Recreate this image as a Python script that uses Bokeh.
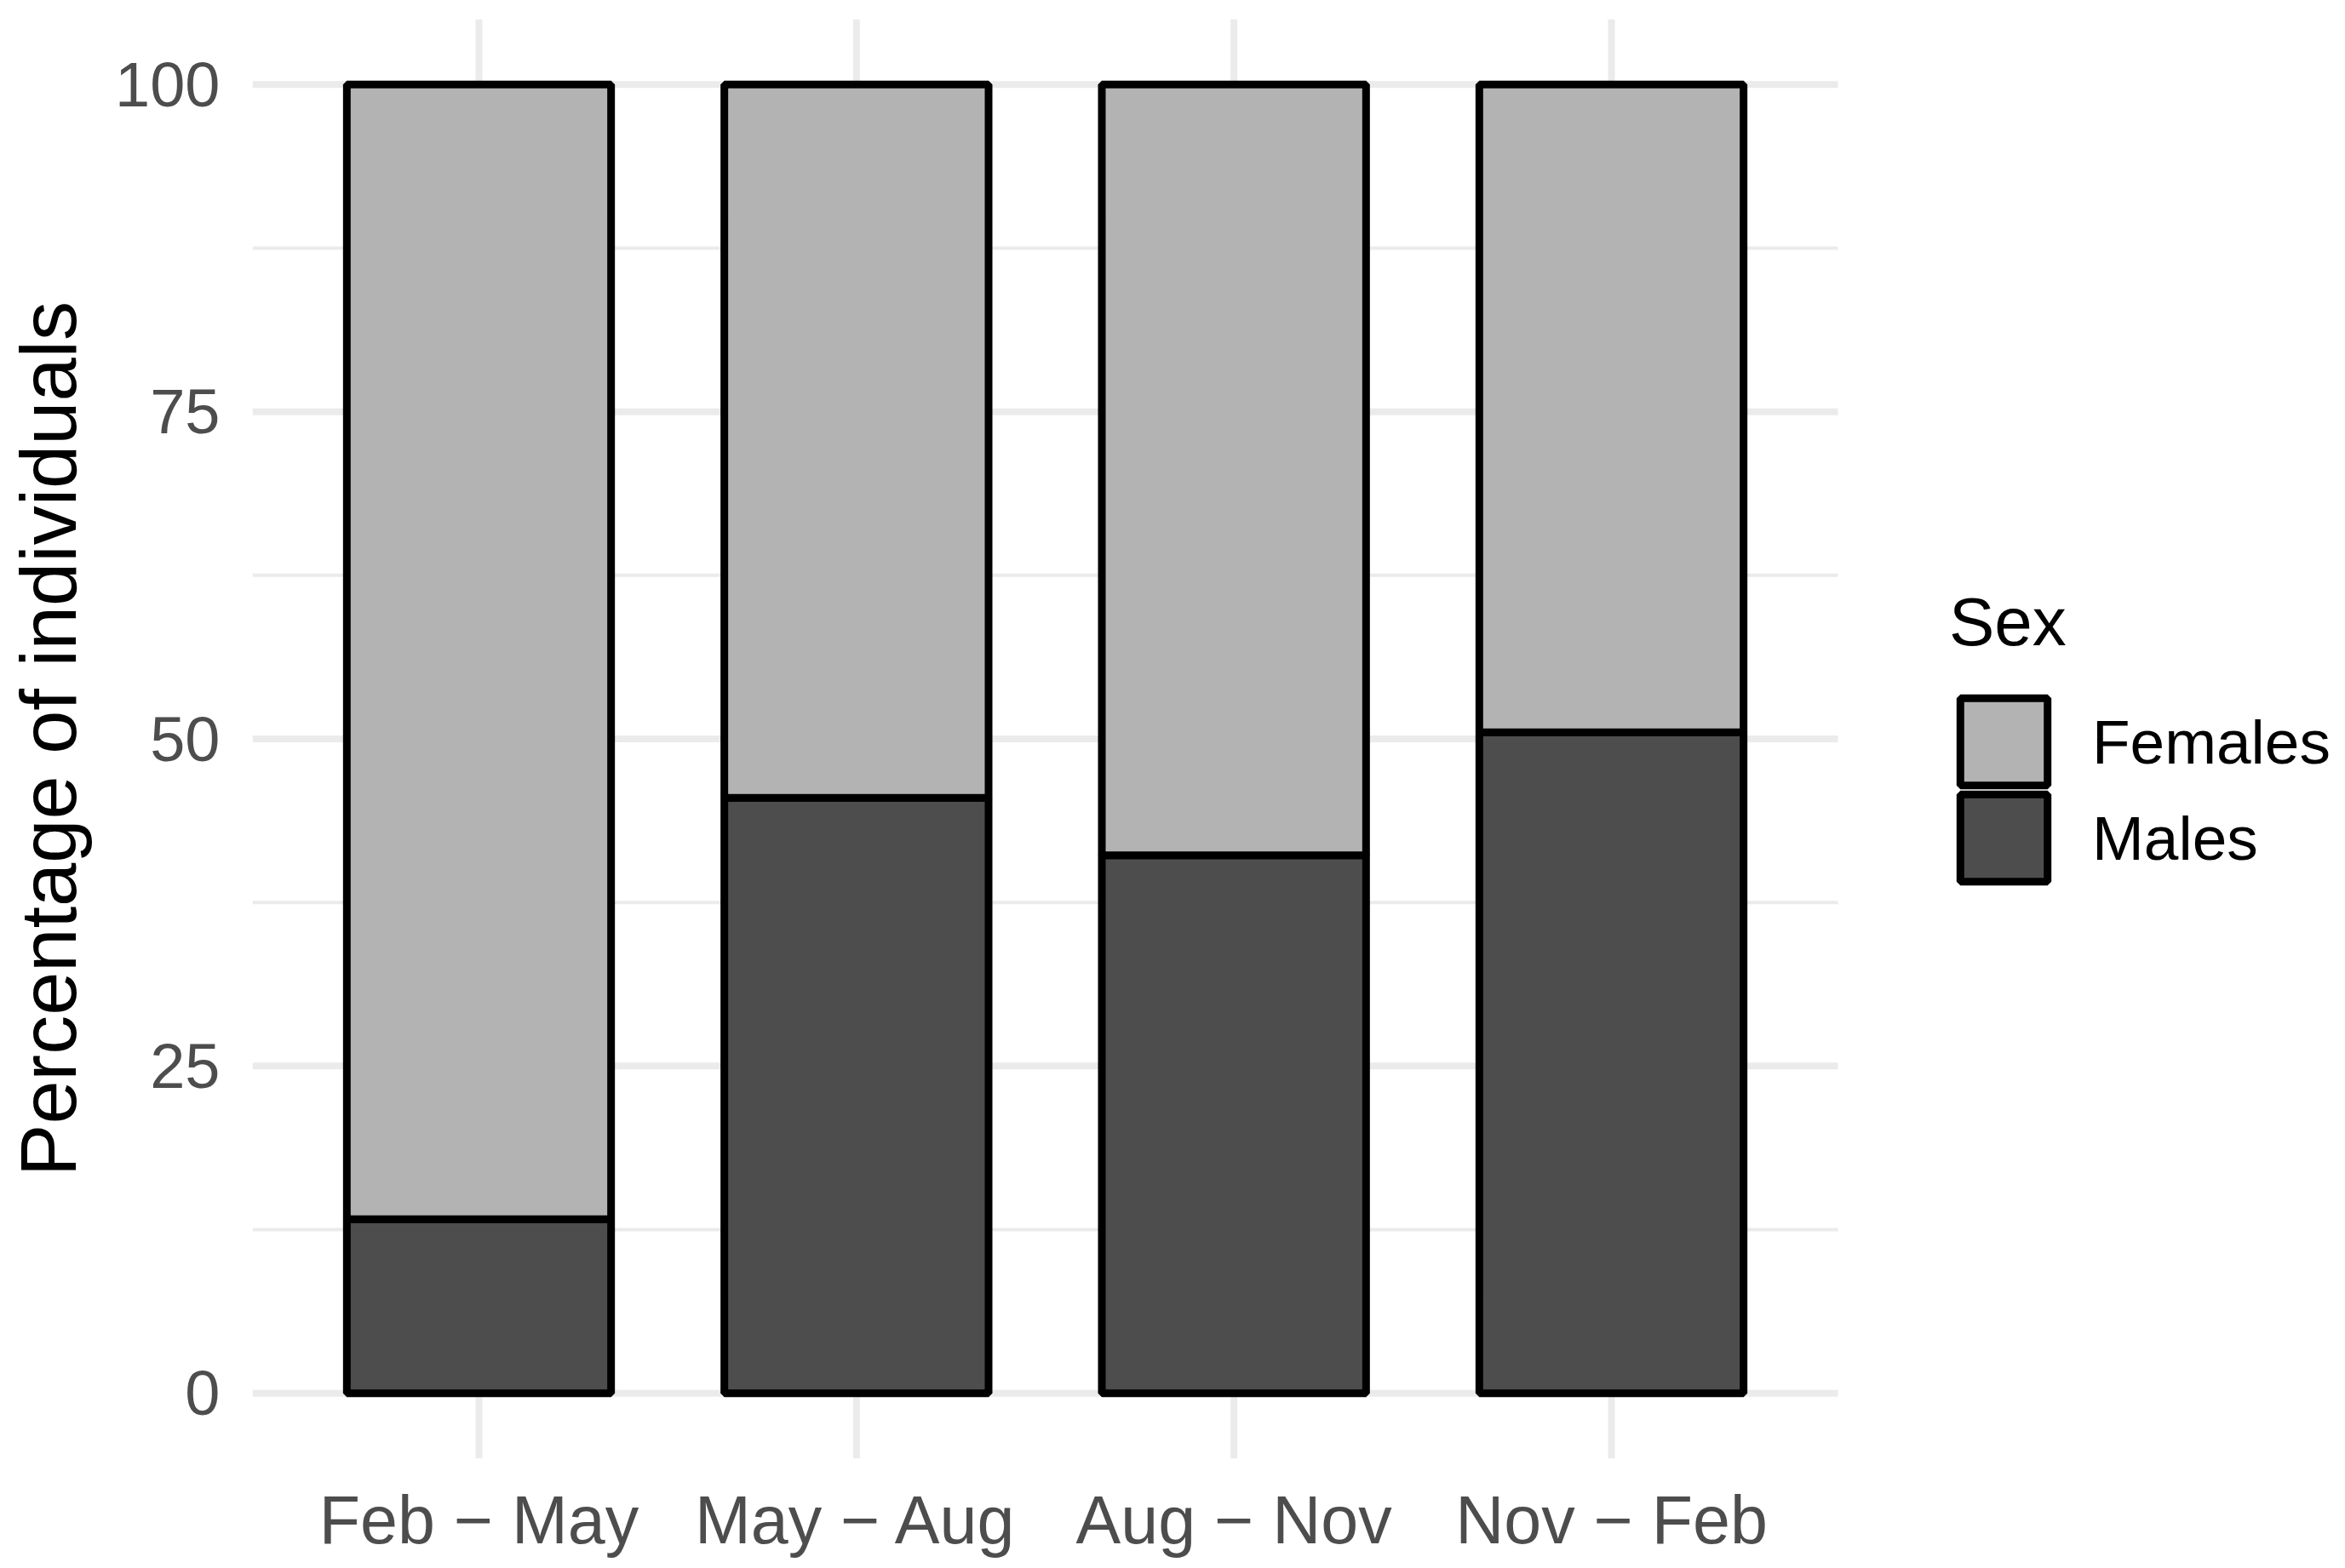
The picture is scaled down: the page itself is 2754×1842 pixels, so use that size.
from bokeh.plotting import figure
from bokeh.models import Range1d, FixedTicker, Legend, LegendItem, ColumnDataSource
from bokeh.embed import file_html
from bokeh.resources import INLINE

# ---- data ----
periods = ["Feb \u2212 May", "May \u2212 Aug", "Aug \u2212 Nov", "Nov \u2212 Feb"]
males = [13.3, 45.5, 41.1, 50.5]
females = [86.7, 54.5, 58.9, 49.5]
y_ticks = [0, 25, 50, 75, 100]
y_minor = [12.5, 37.5, 62.5, 87.5]
sex_labels = ["Females", "Males"]
fill_colors = {"Females": "#B3B3B3", "Males": "#4D4D4D"}

x_idx = list(range(1, len(periods) + 1))
src = ColumnDataSource(dict(
    x=x_idx,
    males_top=males,
    fem_bottom=males,
    fem_top=[m + f for m, f in zip(males, females)],
))

FONT = "Liberation Sans"

# layout: data panel spans x 0.4..4.6 over 1862 px; frame is extended to the
# right so that the legend can sit inside it (gridlines drawn manually).
W, H = 2746, 1840
LEFT, TOP, BOTTOM = 296, 22, 127
x_lo, x_hi = 0.4, 4.6
y_lo, y_hi = -5, 105
panel_px = 1862
frame_w = W - LEFT
x_end = x_lo + frame_w * (x_hi - x_lo) / panel_px

p = figure(width=W, height=H, output_backend="svg", toolbar_location=None,
           x_range=Range1d(x_lo, x_end), y_range=Range1d(y_lo, y_hi),
           min_border_left=LEFT, min_border_right=0, min_border_top=TOP,
           min_border_bottom=BOTTOM)
p.outline_line_color = None
p.background_fill_color = "white"
p.border_fill_color = "white"
p.xgrid.visible = False
p.ygrid.visible = False

GRID = "#EBEBEB"
# vertical major gridlines (at categories)
p.segment(x0=x_idx, x1=x_idx, y0=[y_lo] * len(x_idx), y1=[y_hi] * len(x_idx),
          line_color=GRID, line_width=8)
# horizontal minor and major gridlines
p.segment(x0=[x_lo] * len(y_minor), x1=[x_hi] * len(y_minor), y0=y_minor, y1=y_minor,
          line_color=GRID, line_width=4)
p.segment(x0=[x_lo] * len(y_ticks), x1=[x_hi] * len(y_ticks), y0=y_ticks, y1=y_ticks,
          line_color=GRID, line_width=8)

# bars
rm = p.vbar(x="x", width=0.7, bottom=0, top="males_top", source=src,
            fill_color=fill_colors["Males"], line_color="black", line_width=9)
rf = p.vbar(x="x", width=0.7, bottom="fem_bottom", top="fem_top", source=src,
            fill_color=fill_colors["Females"], line_color="black", line_width=9)

# axes
p.xaxis.ticker = FixedTicker(ticks=x_idx)
p.xaxis.major_label_overrides = {i: lab for i, lab in zip(x_idx, periods)}
p.yaxis.ticker = FixedTicker(ticks=y_ticks)
for ax in (p.xaxis, p.yaxis):
    ax.axis_line_color = None
    ax.major_tick_line_color = None
    ax.minor_tick_line_color = None
    ax.major_tick_out = 0
    ax.major_tick_in = 0
    ax.minor_tick_out = 0
    ax.minor_tick_in = 0
    ax.major_label_text_font = FONT
    ax.major_label_text_color = "#4D4D4D"
    ax.axis_label_text_font = FONT
    ax.axis_label_text_font_style = "normal"
    ax.axis_label_text_color = "black"
    ax.axis_label_text_font_size = "92px"
p.xaxis.major_label_text_font_size = "79px"
p.yaxis.major_label_text_font_size = "74px"
p.yaxis.major_label_standoff = 38
p.xaxis.major_label_standoff = 27
p.yaxis.axis_label = "Percentage of individuals"
p.yaxis.axis_label_standoff = 24

common = dict(label_text_font=FONT, label_text_font_size="73px",
              label_text_color="black",
              glyph_width=128, glyph_height=128, label_height=128,
              spacing=0, padding=0, margin=0, label_standoff=40,
              border_line_color=None, background_fill_alpha=0)
legend_f = Legend(items=[LegendItem(label=sex_labels[0], renderers=[rf])],
                  location=(1993, 778), title="Sex",
                  title_text_font=FONT, title_text_font_size="80px",
                  title_text_color="black", title_text_font_style="normal",
                  title_standoff=30, **common)
legend_m = Legend(items=[LegendItem(label=sex_labels[1], renderers=[rm])],
                  location=(1993, 665), **common)
p.add_layout(legend_f, "center")
p.add_layout(legend_m, "center")

open("out.html", "w").write(file_html(p, INLINE))
